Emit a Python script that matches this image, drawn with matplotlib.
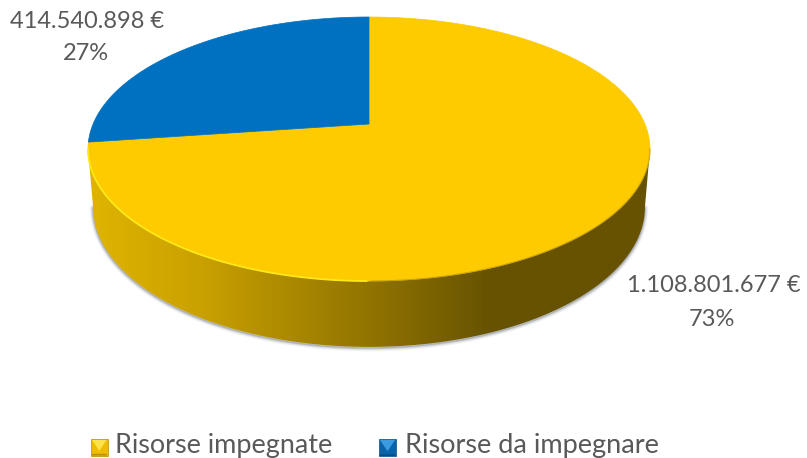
import numpy as np
import matplotlib
matplotlib.use('Agg')
import matplotlib.pyplot as plt
from matplotlib.colors import LinearSegmentedColormap
from matplotlib.patches import Polygon

categories = ['Risorse impegnate', 'Risorse da impegnare']
values = [1108801677, 414540898]

TOP = '#fdcb00'
BLUE = '#0070c0'
TEXT = '#595959'

plt.rcParams['font.family'] = ['Lato', 'DejaVu Sans']

fig = plt.figure(figsize=(8.07, 4.58), dpi=100)
ax = fig.add_axes([0, 0, 1, 1])
ax.set_axis_off()

# pie seen in perspective: circle -> projected ellipse, in pixel coords
cx, cy = 369, 124
persp = 0.1894
ax_x = 275.9
a_y = -103.78

def project(t):
    u, v = np.cos(t), np.sin(t)
    d = persp * v + 1
    return cx + ax_x * u / d, (a_y * v + cy) / d

def lower(x, y):
    # bottom face: a bit narrower, further down
    return 369 + (x - 369) * 0.982, 207 + (y - 149) * 1.06

share = values[1] / sum(values)
split = np.pi / 2 + 2 * np.pi * share

# wall
t_front = np.linspace(np.pi + np.arcsin(persp), 2 * np.pi - np.arcsin(persp), 200)
xf, yf = project(t_front)
xb, yb = lower(xf, yf)
wall_x = np.r_[xf, xb[::-1]]
wall_y = np.r_[yf, yb[::-1]]

# soft shadow round the wall, only from the lower part of the sides
for lw, al in [(5, 0.06), (3.5, 0.10), (2, 0.16), (1, 0.22)]:
    ax.plot(xb, yb + 1, color='#505560', lw=lw, alpha=al, solid_capstyle='round', zorder=1)

wall_cmap = LinearSegmentedColormap.from_list('wall', [
    (0.0, '#e0b400'), (0.2, '#c9a100'), (0.5, '#917400'), (0.72, '#665200'), (1.0, '#665200')])
grad = np.linspace(0, 1, 512).reshape(1, -1)
im = ax.imshow(grad, cmap=wall_cmap, extent=[88, 650, 350, 140], aspect='auto', zorder=2)
wall = Polygon(np.c_[wall_x, wall_y], closed=True, fc='none', ec='none', transform=ax.transData)
ax.add_patch(wall)
im.set_clip_path(wall)

# top face
t_yellow = np.linspace(split, 2.5 * np.pi, 400)
xy, yy = project(t_yellow)
ax.add_patch(Polygon(np.c_[np.r_[cx, xy], np.r_[cy, yy]], closed=True, fc=TOP, ec=TOP, lw=0.5, zorder=3))
t_blue = np.linspace(np.pi / 2, split, 200)
xbl, ybl = project(t_blue)
ax.add_patch(Polygon(np.c_[np.r_[cx, xbl], np.r_[cy, ybl]], closed=True, fc=BLUE, ec=BLUE, lw=0.5, zorder=3))

# rim highlight
mid = len(t_front) // 2
ax.plot(xf[:mid], yf[:mid], color='#ffe81a', lw=1.3, zorder=4)
ax.plot(xf[mid:], yf[mid:], color='#b89400', lw=0.8, alpha=0.7, zorder=4)

# labels
def money(v):
    return f'{v:,}'.replace(',', '.') + ' €'

pct = [round(v / sum(values) * 100) for v in values]
ax.text(87, 22, money(values[1]), color=TEXT, fontsize=17, ha='center', va='center', zorder=5)
ax.text(86, 53, f'{pct[1]}%', color=TEXT, fontsize=17, ha='center', va='center', zorder=5)
ax.text(714, 286, money(values[0]), color=TEXT, fontsize=17, ha='center', va='center', zorder=5)
ax.text(712, 319, f'{pct[0]}%', color=TEXT, fontsize=17, ha='center', va='center', zorder=5)

# legend with bevelled keys
def key(x, y, size, base, light, dark):
    ax.add_patch(Polygon([(x, y), (x + size, y), (x + size, y + size), (x, y + size)], fc=base, ec=dark, lw=0.5, zorder=5))
    ax.add_patch(Polygon([(x + 1, y + 1), (x + size - 1, y + 1), (x + size / 2, y + size * 0.72)], fc=light, ec='none', zorder=6))
    ax.add_patch(Polygon([(x, y + size), (x + size, y + size), (x + size * 0.92, y + size * 0.9), (x + size * 0.08, y + size * 0.9)], fc=dark, ec='none', zorder=6))

key(91, 439, 16.5, '#eebc00', '#ffe24a', '#b58f00')
ax.text(115, 445.5, categories[0], color=TEXT, fontsize=19.45, ha='left', va='center', zorder=5)
key(379, 439, 17, '#0a62a8', '#3b9be0', '#004f8c')
ax.text(405, 445.5, categories[1], color=TEXT, fontsize=19.5, ha='left', va='center', zorder=5)

ax.set_xlim(0, 807)
ax.set_ylim(458, 0)

fig.savefig('out.png', dpi=100)
